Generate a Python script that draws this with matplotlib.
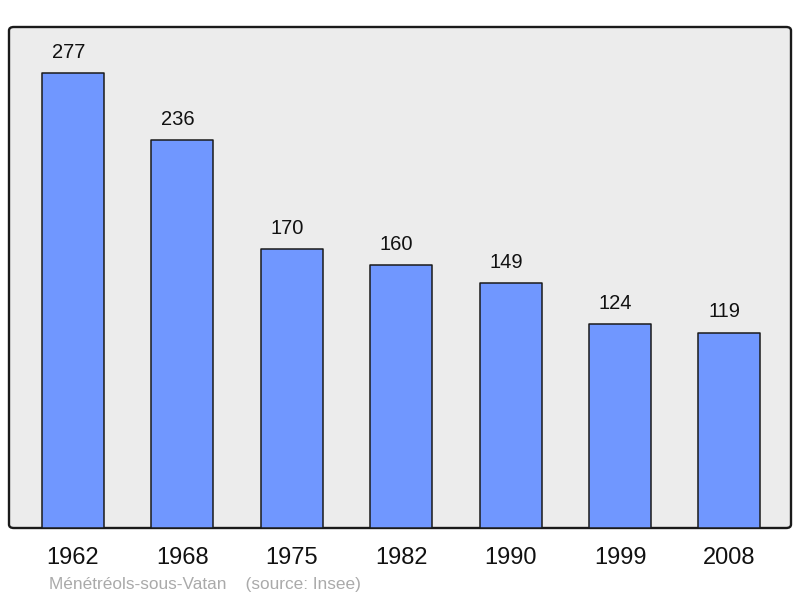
import matplotlib
matplotlib.use("Agg")
import matplotlib.pyplot as plt
from matplotlib.patches import FancyBboxPatch

years = ["1962", "1968", "1975", "1982", "1990", "1999", "2008"]
population = [277, 236, 170, 160, 149, 124, 119]
caption = "Ménétréols-sous-Vatan    (source: Insee)"

plt.rcParams['font.family'] = ['Liberation Sans', 'DejaVu Sans']

fig = plt.figure(figsize=(8.0, 5.98), dpi=100)
W, H = 800, 598
ax = fig.add_axes([9 / W, 1 - 528 / H, (791 - 9) / W, (528 - 27) / H])
ax.set_facecolor('none')
ax.set_zorder(2)

# rounded frame
frame = FancyBboxPatch((9 / W, 1 - 528 / H), (791 - 9) / W, (528 - 27) / H,
                       boxstyle="round,pad=0,rounding_size=0.006",
                       transform=fig.transFigure, facecolor='#ececec',
                       edgecolor='#1a1a1a', linewidth=1.7, zorder=-1)
fig.patches.append(frame)

x = list(range(len(years)))
bars = ax.bar(x, population, width=0.567, color='#7097ff', edgecolor='#1a1a1a',
              linewidth=1.1, zorder=2)
for b in bars:
    b.set_joinstyle('round')

for xi, v in zip(x, population):
    ax.annotate(str(v), (xi, v), xytext=(-3.3, 8), textcoords='offset points',
                ha='center', va='bottom', fontsize=14.5, color='#111111')

ax.set_xlim(-0.585, 6.563)
ax.set_ylim(0, 305)
ax.set_xticks(x)
ax.set_xticklabels(years, fontsize=17, color='#111111')
ax.tick_params(axis='x', length=0, pad=14)
ax.set_yticks([])
for s in ax.spines.values():
    s.set_visible(False)

fig.text(49 / W, 1 - 584.5 / H, caption, fontsize=12.4, color='#aaaaaa',
         ha='left', va='center')

fig.savefig("out.png", dpi=100)
